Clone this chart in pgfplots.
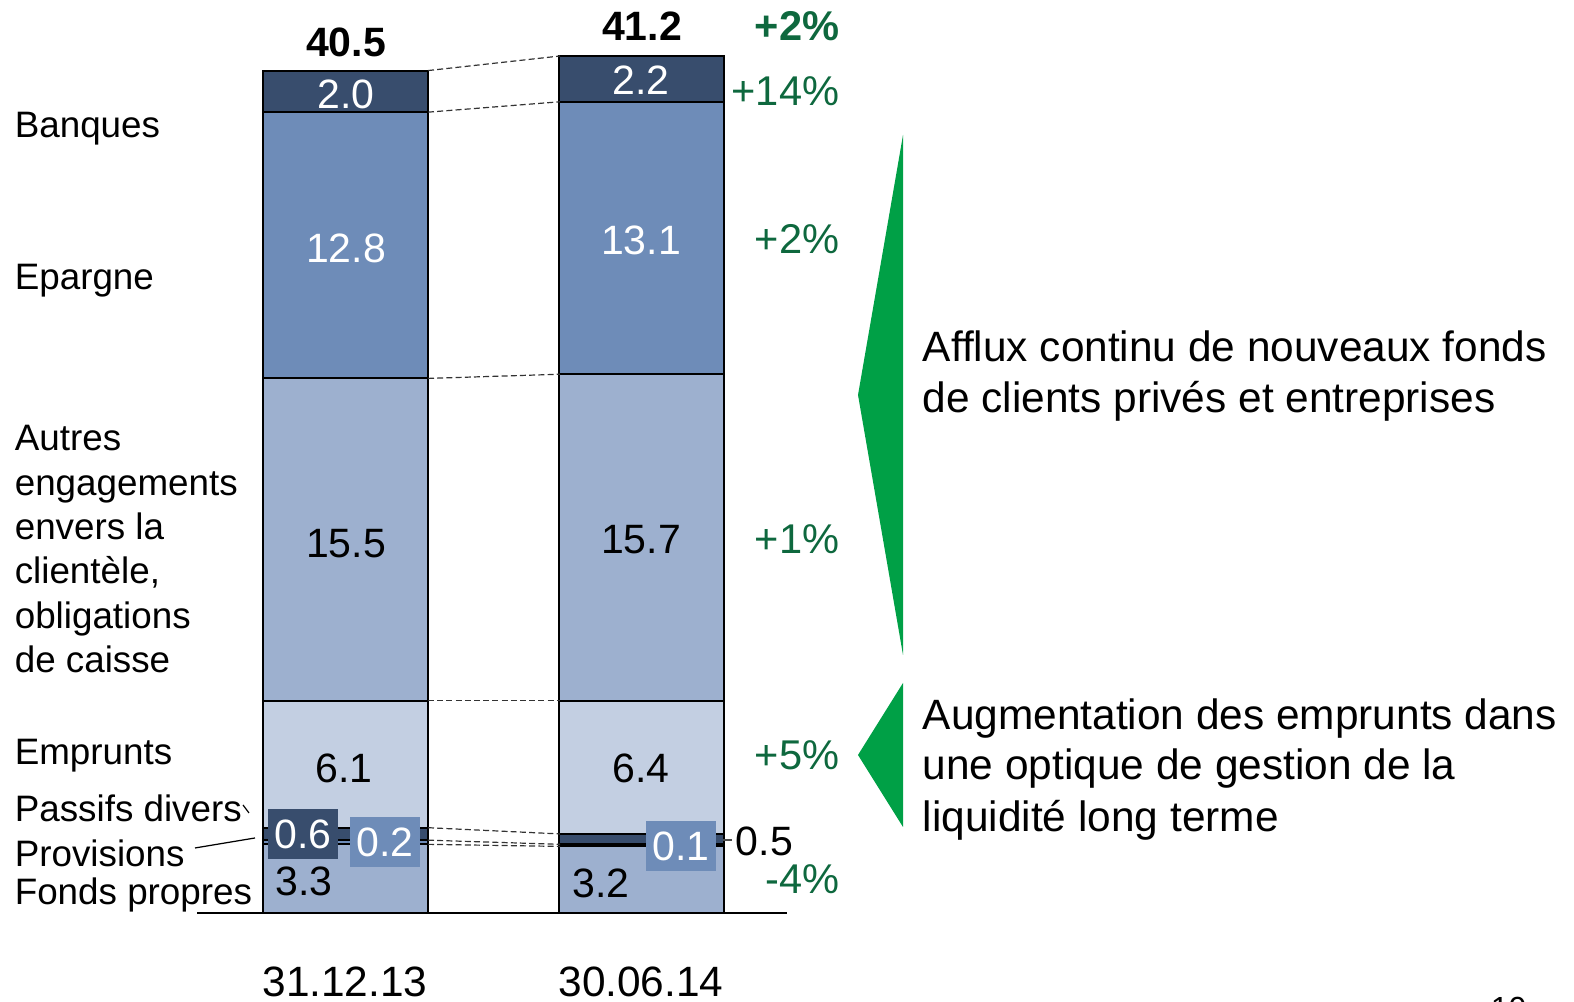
\documentclass[border=0pt]{standalone}
\usepackage{fontspec}
\setmainfont{Liberation Sans}
\usepackage{pgfplots}
\pgfplotsset{compat=1.18}

\definecolor{cDark}{RGB}{56,77,109}
\definecolor{cMid}{RGB}{110,140,184}
\definecolor{cLight}{RGB}{157,176,207}
\definecolor{cPale}{RGB}{195,207,226}
\definecolor{gTxt}{RGB}{14,104,62}
\definecolor{gTri}{RGB}{0,160,70}

% canvas: 1574 x 1002 px, 1 px = 0.25pt; y in data units (20.8 px per unit, base at px 913)
\pgfplotsset{canvas/.style={
    at={(0,0)}, anchor=south west, scale only axis,
    width=393.5pt, height=250.5pt,
    xmin=0, xmax=1574, ymin=-4.279, ymax=43.894,
    hide axis, clip=false},
  conn/.style={black!80, no markers, line width=0.3pt, dash pattern=on 1.5pt off 0.8pt}}

\begin{document}
\begin{tikzpicture}
\path[use as bounding box] (0,0) rectangle (393.5pt,250.5pt);

% stacked bars
\begin{axis}[canvas, ybar stacked, bar width=165,
    every axis plot/.append style={draw=black, line width=0.5pt}]
\addplot[fill=cLight] coordinates {(345.5,3.3) (641.5,3.2)};  % Fonds propres
\addplot[fill=cMid]   coordinates {(345.5,0.2) (641.5,0.1)};  % Provisions
\addplot[fill=cDark]  coordinates {(345.5,0.6) (641.5,0.5)};  % Passifs divers
\addplot[fill=cPale]  coordinates {(345.5,6.1) (641.5,6.4)};  % Emprunts
\addplot[fill=cLight] coordinates {(345.5,15.5) (641.5,15.7)};% Autres engagements
\addplot[fill=cMid]   coordinates {(345.5,12.8) (641.5,13.1)};% Epargne
\addplot[fill=cDark]  coordinates {(345.5,2.0) (641.5,2.2)};  % Banques
\end{axis}

% connectors between cumulative levels + baseline
\begin{axis}[canvas]
\addplot[conn] coordinates {(428,40.5) (560,41.2)};
\addplot[conn] coordinates {(428,38.5) (560,39.0)};
\addplot[conn] coordinates {(428,25.7) (560,25.9)};
\addplot[conn] coordinates {(428,10.2) (560,10.2)};
\addplot[conn] coordinates {(428,4.1) (560,3.8)};
\addplot[conn] coordinates {(428,3.5) (560,3.3)};
\addplot[conn] coordinates {(428,3.3) (560,3.2)};
\addplot[black, no markers, line width=0.5pt] coordinates {(197,0) (787,0)};
\end{axis}

% annotations in pixel coordinates
\begin{scope}[x=0.25pt, y=-0.25pt, shift={(0,250.5pt)}]
\fill[gTri] (903,135) -- (858,395) -- (903,655) -- cycle;
\fill[gTri] (903,683) -- (858,755) -- (903,827) -- cycle;

\begin{scope}[every node/.style={anchor=base west, inner sep=0pt, font=\fontsize{9.2}{11}\selectfont}]
\node at (14,138) {Banques};
\node at (14,290) {Epargne};
\node at (14,451) {Autres};
\node at (14,496) {engagements};
\node at (14,540) {envers la};
\node at (14,584) {clientèle,};
\node at (14,629) {obligations};
\node at (14,673) {de caisse};
\node at (14,765) {Emprunts};
\node at (14,822) {Passifs divers};
\node at (14,867) {Provisions};
\node at (14,905) {Fonds propres};
\end{scope}
\draw[black, line width=0.3pt] (243,805) -- (249,813);
\draw[black, line width=0.3pt] (195,848) -- (255,838);
\draw[black!70, line width=0.4pt] (723,840) -- (732,840);

\begin{scope}[every node/.style={anchor=base west, inner sep=0pt, font=\fontsize{10.6}{12}\selectfont}]
\node at (922,362) {Afflux continu de nouveaux fonds};
\node at (922,413) {de clients privés et entreprises};
\node at (922,730) {Augmentation des emprunts dans};
\node at (922,780) {une optique de gestion de la};
\node at (922,832) {liquidité long terme};
\end{scope}

\begin{scope}[every node/.style={anchor=center, inner sep=0pt, font=\fontsize{10.25}{12}\selectfont}]
\node[white] at (346,94) {2.0};
\node[white] at (346,248) {12.8};
\node at (346,544) {15.5};
\node at (344,768) {6.1};
\node at (304,881) {3.3};
\node[white] at (641,80) {2.2};
\node[white] at (641,240) {13.1};
\node at (641,540) {15.7};
\node at (641,768) {6.4};
\node at (601,883) {3.2};
\node[fill=cDark, text=white, minimum width=17.5pt, minimum height=12.5pt] at (303,834) {0.6};
\node[fill=cMid, text=white, minimum width=17.5pt, minimum height=12.5pt] at (385,842) {0.2};
\node[fill=cMid, text=white, minimum width=17.5pt, minimum height=12.5pt] at (681,846) {0.1};
\node[anchor=west] at (735,841) {0.5};
\node[font=\fontsize{10.25}{12}\selectfont\bfseries] at (346,42) {40.5};
\node[font=\fontsize{10.25}{12}\selectfont\bfseries] at (642,26) {41.2};
\end{scope}

\begin{scope}[every node/.style={anchor=east, inner sep=0pt, text=gTxt, font=\fontsize{10.4}{12}\selectfont}]
\node[font=\fontsize{10.4}{12}\selectfont\bfseries] at (840,26) {+2\%};
\node at (840,91) {+14\%};
\node at (840,239) {+2\%};
\node at (840,539) {+1\%};
\node at (840,755) {+5\%};
\node at (840,879) {-4\%};
\end{scope}

\node[anchor=center, inner sep=0pt, font=\fontsize{10.6}{12}\selectfont] at (345,982) {31.12.13};
\node[anchor=center, inner sep=0pt, font=\fontsize{10.6}{12}\selectfont] at (641,982) {30.06.14};
\node[anchor=base west, inner sep=0pt, font=\fontsize{8}{10}\selectfont] at (1490,1020) {10};
\end{scope}
\end{tikzpicture}
\end{document}
